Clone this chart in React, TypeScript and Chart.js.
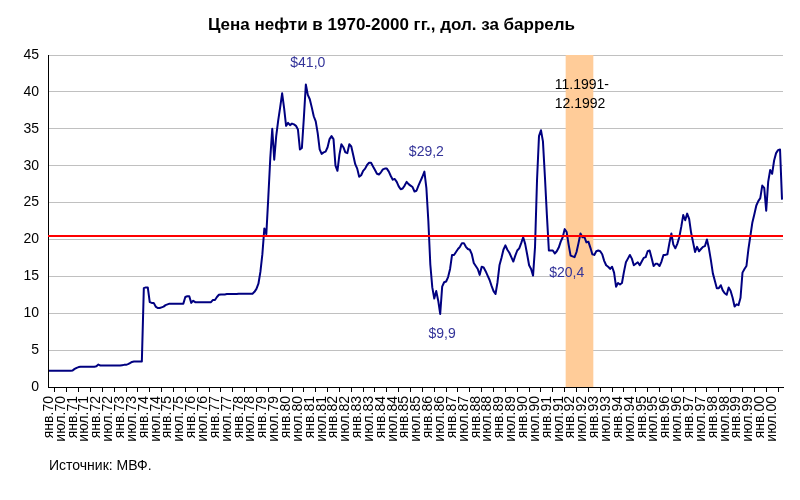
import { useEffect, useRef } from 'react';
import { Chart, registerables } from 'chart.js';

Chart.register(...registerables);

const FONT = 'Arial, "Liberation Sans", sans-serif';

const monthNames = ['янв', 'фев', 'мар', 'апр', 'май', 'июн', 'июл', 'авг', 'сен', 'окт', 'ноя', 'дек'];
const yearNames = [
  '70', '71', '72', '73', '74', '75', '76', '77', '78', '79',
  '80', '81', '82', '83', '84', '85', '86', '87', '88', '89',
  '90', '91', '92', '93', '94', '95', '96', '97', '98', '99', '00',
];

// monthly oil price, $ per barrel
const prices70s = [
  2.2, 2.2, 2.2, 2.2, 2.2, 2.2, 2.2, 2.2, 2.2, 2.2, 2.2, 2.2, // 1970
  2.25, 2.45, 2.6, 2.7, 2.75, 2.75, 2.75, 2.75, 2.75, 2.75, 2.75, 2.75, // 1971
  2.8, 3.05, 2.9, 2.9, 2.9, 2.9, 2.9, 2.9, 2.9, 2.9, 2.9, 2.9, // 1972
  2.9, 2.95, 3.0, 3.0, 3.1, 3.25, 3.4, 3.45, 3.45, 3.45, 3.45, 3.45, // 1973
  13.4, 13.5, 13.5, 11.5, 11.4, 11.4, 10.9, 10.7, 10.7, 10.8, 10.9, 11.1, // 1974
  11.2, 11.3, 11.3, 11.3, 11.3, 11.3, 11.3, 11.3, 11.3, 12.2, 12.3, 12.3, // 1975
  11.4, 11.7, 11.5, 11.5, 11.5, 11.5, 11.5, 11.5, 11.5, 11.5, 11.5, 11.8, // 1976
  11.8, 12.2, 12.5, 12.55, 12.55, 12.55, 12.6, 12.6, 12.6, 12.6, 12.6, 12.6, // 1977
  12.65, 12.65, 12.65, 12.65, 12.65, 12.65, 12.65, 12.65, 12.9, 13.3, 14.0, 15.6, // 1978
  18.0, 21.5, 20.7, 25.7, 31.0, 35.0, 30.8, 34.0, 36.1, 37.9, 39.8, 37.8, // 1979
];
const prices80s = [
  35.4, 35.8, 35.5, 35.7, 35.6, 35.4, 34.9, 32.2, 32.4, 36.5, 41.0, 39.6, // 1980
  39.0, 37.9, 36.7, 36.0, 34.4, 32.2, 31.6, 31.8, 31.9, 32.5, 33.6, 34.0, // 1981
  33.6, 30.0, 29.3, 31.5, 32.9, 32.5, 31.8, 31.7, 32.9, 32.6, 31.4, 30.2, // 1982
  29.6, 28.5, 28.7, 29.3, 29.6, 30.1, 30.4, 30.4, 29.9, 29.4, 28.9, 28.8, // 1983
  29.1, 29.5, 29.6, 29.6, 29.2, 28.6, 28.1, 28.2, 27.8, 27.2, 26.8, 26.9, // 1984
  27.3, 27.8, 27.5, 27.3, 27.1, 26.5, 26.6, 27.3, 27.9, 28.5, 29.2, 27.0, // 1985
  22.5, 16.6, 13.5, 12.0, 13.0, 11.7, 9.9, 13.6, 14.2, 14.3, 14.9, 16.0, // 1986
  17.9, 17.9, 18.3, 18.7, 19.0, 19.5, 19.5, 19.0, 18.7, 18.6, 18.0, 16.8, // 1987
  16.4, 16.0, 15.2, 16.3, 16.2, 15.7, 15.1, 14.5, 13.7, 13.0, 12.6, 14.2, // 1988
  16.5, 17.5, 18.6, 19.2, 18.6, 18.2, 17.6, 17.0, 17.8, 18.5, 18.8, 19.5, // 1989
];
const prices90s = [
  20.3, 19.4, 18.0, 16.5, 16.0, 15.1, 19.0, 28.0, 34.0, 34.8, 33.3, 28.5, // 1990
  23.3, 18.5, 18.5, 18.5, 18.1, 18.4, 18.9, 19.7, 20.3, 21.4, 21.0, 19.3, // 1991
  17.8, 17.7, 17.6, 18.3, 19.5, 20.8, 20.3, 20.3, 19.6, 19.7, 18.9, 18.0, // 1992
  17.9, 18.4, 18.5, 18.4, 18.0, 17.1, 16.5, 16.3, 16.0, 16.3, 15.5, 13.6, // 1993
  14.1, 13.9, 14.1, 15.6, 16.9, 17.4, 17.9, 17.4, 16.5, 16.7, 16.9, 16.5, // 1994
  17.0, 17.5, 17.6, 18.4, 18.5, 17.5, 16.4, 16.7, 16.7, 16.4, 17.0, 17.9, // 1995
  17.9, 18.0, 19.5, 20.8, 19.3, 18.8, 19.4, 20.3, 21.7, 23.3, 22.6, 23.5, // 1996
  22.8, 20.9, 19.6, 18.3, 19.0, 18.4, 18.7, 19.0, 19.1, 20.0, 18.8, 17.2, // 1997
  15.4, 14.4, 13.4, 13.4, 13.8, 13.1, 12.7, 12.5, 13.5, 13.0, 12.1, 10.9, // 1998
  11.2, 11.1, 12.1, 15.5, 16.0, 16.4, 18.7, 20.5, 22.3, 23.4, 24.6, 25.2, // 1999
];
const prices2000 = [25.6, 27.3, 27.0, 23.9, 27.8, 29.4, 28.9, 30.7, 31.7, 32.1, 32.2, 25.4];

const avgPrice = 20.4;
const bandFrom = 'ноя.91';
const bandTo = 'дек.92';

const notes = [
  { text: '$41,0', at: 'дек.80', value: 43.9, align: 'center', color: '#333399' },
  { text: '$29,2', at: 'дек.85', value: 31.9, align: 'center', color: '#333399' },
  { text: '$9,9', at: 'авг.86', value: 7.1, align: 'center', color: '#333399' },
  { text: '$20,4', at: 'ноя.91', value: 15.5, align: 'center', color: '#333399' },
  { text: '11.1991-', at: 'май.91', value: 40.9, align: 'left', color: '#000000' },
  { text: '12.1992', at: 'май.91', value: 38.3, align: 'left', color: '#000000' },
];

const labels: string[] = [];
yearNames.forEach((y) => monthNames.forEach((m) => labels.push(m + '.' + y)));
const prices = [...prices70s, ...prices80s, ...prices90s, ...prices2000];

const extras = {
  id: 'extras',
  beforeDatasetsDraw(chart: any) {
    const { ctx, chartArea, scales } = chart;
    const x = scales.x;
    const half = (x.getPixelForValue(1) - x.getPixelForValue(0)) / 2;
    const x0 = x.getPixelForValue(labels.indexOf(bandFrom)) - half;
    const x1 = x.getPixelForValue(labels.indexOf(bandTo)) + half;
    ctx.save();
    ctx.fillStyle = '#FFCC99';
    ctx.fillRect(x0, chartArea.top, x1 - x0, chartArea.bottom - chartArea.top);
    ctx.restore();
  },
  afterDatasetsDraw(chart: any) {
    const { ctx, chartArea, scales } = chart;
    const yy = Math.round(scales.y.getPixelForValue(avgPrice));
    ctx.save();
    ctx.strokeStyle = '#FF0000';
    ctx.lineWidth = 2;
    ctx.beginPath();
    ctx.moveTo(chartArea.left, yy);
    ctx.lineTo(chartArea.right, yy);
    ctx.stroke();

    ctx.font = '14px ' + FONT;
    ctx.textBaseline = 'middle';
    notes.forEach((n) => {
      ctx.fillStyle = n.color;
      ctx.textAlign = n.align;
      ctx.fillText(n.text, scales.x.getPixelForValue(labels.indexOf(n.at)), scales.y.getPixelForValue(n.value));
    });
    ctx.restore();
  },
};

export default function App() {
  const canvasRef = useRef<HTMLCanvasElement>(null);

  useEffect(() => {
    if (!canvasRef.current) return;
    const chart = new Chart(canvasRef.current, {
      type: 'line',
      data: {
        labels,
        datasets: [
          {
            data: prices,
            borderColor: '#000080',
            borderWidth: 2,
            pointRadius: 0,
            tension: 0,
            borderJoinStyle: 'round',
          },
        ],
      },
      options: {
        responsive: false,
        animation: false,
        events: [],
        layout: { padding: { left: 0, right: 17, top: 0, bottom: 0 } },
        plugins: {
          legend: { display: false },
          tooltip: { enabled: false },
          title: {
            display: true,
            text: 'Цена нефти в 1970-2000 гг., дол. за баррель',
            color: '#000',
            font: { family: FONT, size: 17, weight: 'bold' },
            padding: { top: 15.4, bottom: 19.2 },
          },
        },
        scales: {
          x: {
            offset: true,
            afterFit: (s: any) => {
              s.height = 113;
            },
            grid: {
              offset: true,
              drawOnChartArea: false,
              drawTicks: true,
              tickLength: 5,
              tickColor: '#000',
            },
            border: { display: true, color: '#000', width: 1 },
            ticks: {
              autoSkip: false,
              maxRotation: 90,
              minRotation: 90,
              padding: 4,
              color: '#000',
              font: { family: FONT, size: 14 },
              callback: (_v: any, i: number) => (i % 6 === 0 ? labels[i] : null),
            },
          },
          y: {
            min: 0,
            max: 45,
            afterFit: (s: any) => {
              s.width = 48;
            },
            grid: { color: '#C0C0C0', drawTicks: false },
            border: { display: true, color: '#000', width: 1 },
            ticks: {
              stepSize: 5,
              padding: 9,
              color: '#000',
              font: { family: FONT, size: 14 },
            },
          },
        },
      },
      plugins: [extras],
    });
    return () => chart.destroy();
  }, []);

  return (
    <div style={{ position: 'fixed', left: 0, top: 0, width: 800, height: 500, background: '#fff' }}>
      <canvas ref={canvasRef} width={800} height={500} style={{ width: 800, height: 500 }} />
      <div
        style={{
          position: 'absolute',
          left: 49,
          top: 457,
          fontFamily: FONT,
          fontSize: 14,
          color: '#000',
        }}
      >
        Источник: МВФ.
      </div>
    </div>
  );
}
